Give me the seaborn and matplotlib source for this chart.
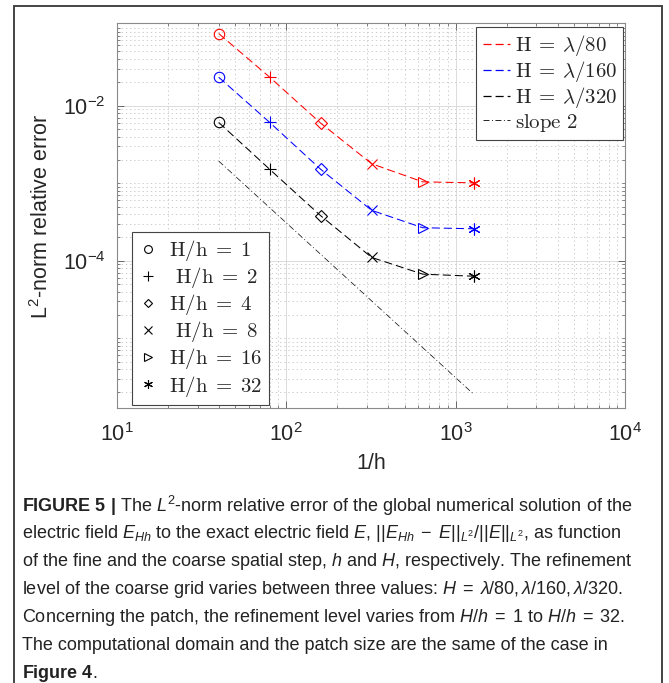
import matplotlib
matplotlib.use('Agg')
import pandas as pd
import matplotlib.pyplot as plt
import seaborn as sns
from matplotlib.lines import Line2D
from matplotlib.patches import Rectangle
from matplotlib.ticker import LogLocator, NullFormatter

# data
inv_h = [40, 80, 160, 320, 640, 1280]          # 1/h for H/h = 1..32
ratios = ['1', '2', '4', '8', '16', '32']
series = ['H = lambda/80', 'H = lambda/160', 'H = lambda/320']
err_80 = [0.0853, 0.0233, 0.00595, 0.00178, 0.00104, 0.00101]
err_160 = [0.0233, 0.00608, 0.00151, 0.000446, 0.000266, 0.000258]
err_320 = [0.00608, 0.00151, 0.00038, 0.000110, 6.7e-5, 6.3e-5]
slope_x = [40, 1280]
slope_y = [1.93e-3, 1.89e-6]

series_labels = [r'$\mathrm{H}\:=\:\lambda/80$', r'$\mathrm{H}\:=\:\lambda/160$',
                 r'$\mathrm{H}\:=\:\lambda/320$', r'$\mathrm{slope\ 2}$']
ratio_labels = [r'$\mathrm{H/h}\;=\;1$', r'$\ \mathrm{H/h}\;=\;2$', r'$\mathrm{H/h}\;=\;4$',
                r'$\ \mathrm{H/h}\;=\;8$', r'$\mathrm{H/h}\;=\;16$', r'$\mathrm{H/h}\;=\;32$']

colors = ['#ff0000', '#0000ff', '#000000']
markers = ['o', '+', 'D', 'x', '>', (6, 2, 0)]
msizes = [7.5, 9, 6, 7.5, 7.5, 8.5]

rows = []
for s, errs in zip(series, [err_80, err_160, err_320]):
    for x, r, e in zip(inv_h, ratios, errs):
        rows.append({'inv_h': x, 'err': e, 'series': s, 'ratio': r})
df = pd.DataFrame(rows)

sns.set_style('ticks')
plt.rcParams['font.family'] = ['Liberation Sans', 'DejaVu Sans']
plt.rcParams['mathtext.fontset'] = 'custom'
plt.rcParams['mathtext.rm'] = 'Liberation Sans'
plt.rcParams['mathtext.it'] = 'Liberation Sans:italic'
plt.rcParams['mathtext.bf'] = 'Liberation Sans:bold'
plt.rcParams['lines.scale_dashes'] = False

fig = plt.figure(figsize=(6.69, 6.83), dpi=100)
ax = fig.add_axes([0.1744, 0.4022, 0.7598, 0.5637])

dash = (0, (5.8, 2.9))
sns.lineplot(data=df, x='inv_h', y='err', hue='series', palette=colors,
             linestyle=dash, linewidth=0.75, legend=False, ax=ax)
for s, c in zip(series, colors):
    sub = df[df['series'] == s]
    for r, m, ms in zip(ratios, markers, msizes):
        pt = sub[sub['ratio'] == r]
        ax.plot(pt['inv_h'], pt['err'], ls='none', marker=m, ms=ms, mfc='none',
                mec=c, mew=0.8)
sns.lineplot(x=slope_x, y=slope_y, color='black', linewidth=0.5,
             linestyle=(0, (4.3, 1.8, 0.7, 1.8)), ax=ax)

ax.set_xscale('log')
ax.set_yscale('log')
ax.set_xlim(10, 1e4)
ax.set_ylim(1.245e-6, 0.1156)
ax.set_xticks([10, 100, 1000, 10000])
ax.set_yticks([1e-4, 1e-2])
ax.xaxis.set_minor_locator(LogLocator(base=10, subs=range(1, 10), numticks=20))
ax.yaxis.set_minor_locator(LogLocator(base=10, subs=range(1, 10), numticks=20))
ax.xaxis.set_minor_formatter(NullFormatter())
ax.yaxis.set_minor_formatter(NullFormatter())
ax.tick_params(which='both', direction='in', top=True, right=True,
               labelsize=15.5, color='#555555')
ax.tick_params(axis='x', pad=11)
ax.tick_params(axis='y', pad=8)
ax.tick_params(which='major', length=5, width=0.6)
ax.tick_params(which='minor', length=2.5, width=0.5)
ax.grid(True, which='major', color='#d6d6d6', linewidth=0.6, linestyle='-')
ax.grid(True, which='minor', color='#c6c6c6', linewidth=0.6, linestyle=(0, (1, 2)))
for sp in ax.spines.values():
    sp.set_color('#8a8a8a')
    sp.set_linewidth(0.8)

ax.set_xlabel('1/h', fontsize=15.5, labelpad=5)
ax.set_ylabel(r'L$^2$-norm relative error', fontsize=15.5, labelpad=7)

# marker legend (lower left)
h2 = [Line2D([], [], ls='none', marker=m, ms=ms * 0.75, mfc='none', mec='black', mew=0.8)
      for m, ms in zip(markers, msizes)]
leg2 = ax.legend(h2, ratio_labels, loc='lower left', bbox_to_anchor=(0.03, 0.009),
                 borderaxespad=0, fontsize=15, frameon=True, fancybox=False,
                 framealpha=1, edgecolor='#444444', handlelength=0.9,
                 handletextpad=0.6, labelspacing=0.1, borderpad=0.3)
leg2.get_frame().set_linewidth(0.8)
for t in leg2.get_texts():
    t.set_math_fontfamily('cm')
ax.add_artist(leg2)

# line legend (upper right)
h1 = [Line2D([], [], color=c, lw=0.9, ls=dash) for c in colors]
h1.append(Line2D([], [], color='black', lw=0.6, ls=(0, (4.3, 1.8, 0.7, 1.8))))
leg1 = ax.legend(h1, series_labels, loc='upper right', bbox_to_anchor=(0.997, 0.99),
                 borderaxespad=0, fontsize=15, frameon=True, fancybox=False,
                 framealpha=1, edgecolor='#444444', handlelength=1.3,
                 handletextpad=0.25, labelspacing=0.05, borderpad=0.3)
leg1.get_frame().set_linewidth(0.8)
for t in leg1.get_texts():
    t.set_math_fontfamily('cm')

# caption
caption = [
    r'$\mathbf{FIGURE\ 5\ |}$ The $L^2$-norm relative error of the global numerical solution of the',
    r'electric field $E_{Hh}$ to the exact electric field $E$, $||E_{Hh}\;-\;E||_{L^2}/||E||_{L^2}$, as function',
    r'of the fine and the coarse spatial step, $h$ and $H$, respectively. The refinement',
    r'level of the coarse grid varies between three values: $H\;=\;\lambda/80, \lambda/160, \lambda/320$.',
    r'Concerning the patch, the refinement level varies from $H/h\;=\;1$ to $H/h\;=\;32$.',
    r'The computational domain and the patch size are the same of the case in',
    r'$\mathbf{Figure\ 4}$.',
]
cap_y = [506, 534, 562, 590, 618, 646, 673]
for line, y in zip(caption, cap_y):
    fig.text(22 / 669, 1 - y / 683, line, ha='left', va='center', fontsize=13,
             color='#222222')

fig.add_artist(Rectangle((13.5 / 669, -0.02), (662 - 13.5) / 669, 1.02 - 6.5 / 683,
                         transform=fig.transFigure, fill=False,
                         edgecolor='#444444', linewidth=1.4))

fig.savefig('out.png', dpi=100)
